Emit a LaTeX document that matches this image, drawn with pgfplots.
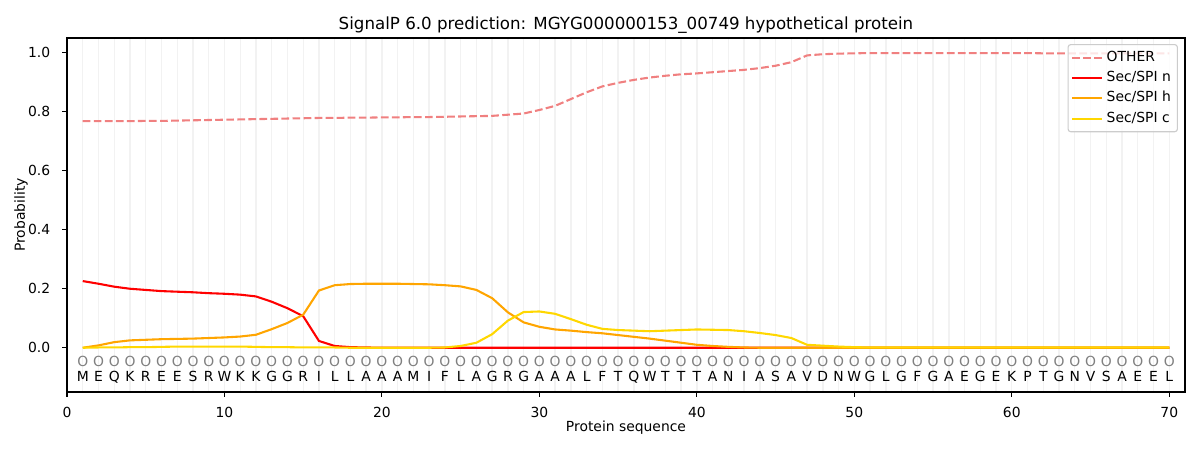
\documentclass[border=0pt]{standalone}
\usepackage{pgfplots}
\pgfplotsset{compat=1.18}
\usepackage{fontspec}
\setmainfont{DejaVu Sans}
\definecolor{cother}{RGB}{240,128,128}
\definecolor{cn}{RGB}{255,0,0}
\definecolor{ch}{RGB}{255,165,0}
\definecolor{cc}{RGB}{255,215,0}
\definecolor{cgrid}{RGB}{242,242,242}
\definecolor{cframe}{RGB}{204,204,204}

\pgfplotstableread{
x other n h c
1 0.768 0.226 0.000 0.000
2 0.768 0.217 0.008 0.001
3 0.768 0.207 0.019 0.001
4 0.768 0.200 0.025 0.002
5 0.769 0.196 0.027 0.002
6 0.769 0.192 0.029 0.003
7 0.770 0.190 0.030 0.004
8 0.771 0.188 0.031 0.004
9 0.772 0.185 0.033 0.004
10 0.773 0.183 0.035 0.004
11 0.774 0.180 0.038 0.004
12 0.775 0.174 0.044 0.003
13 0.776 0.156 0.063 0.002
14 0.777 0.134 0.084 0.002
15 0.778 0.107 0.112 0.001
16 0.779 0.023 0.194 0.001
17 0.779 0.006 0.212 0.001
18 0.780 0.002 0.216 0.000
19 0.780 0.001 0.217 0.000
20 0.781 0.000 0.217 0.000
21 0.781 0.000 0.217 0.000
22 0.782 0.000 0.216 0.000
23 0.782 0.000 0.215 0.000
24 0.783 0.000 0.212 0.001
25 0.784 0.000 0.208 0.006
26 0.785 0.000 0.196 0.017
27 0.786 0.000 0.168 0.046
28 0.790 0.000 0.120 0.092
29 0.794 0.000 0.086 0.121
30 0.806 0.000 0.071 0.123
31 0.820 0.000 0.062 0.115
32 0.843 0.000 0.058 0.097
33 0.866 0.000 0.053 0.078
34 0.886 0.000 0.049 0.064
35 0.898 0.000 0.043 0.060
36 0.908 0.000 0.037 0.058
37 0.916 0.000 0.031 0.056
38 0.922 0.000 0.024 0.058
39 0.927 0.000 0.017 0.060
40 0.930 0.000 0.010 0.062
41 0.934 0.000 0.006 0.061
42 0.938 0.000 0.003 0.060
43 0.942 0.000 0.001 0.056
44 0.948 0.000 0.000 0.050
45 0.956 0.000 0.000 0.043
46 0.968 0.000 0.000 0.033
47 0.991 0.000 0.000 0.010
48 0.995 0.000 0.000 0.007
49 0.997 0.000 0.000 0.004
50 0.998 0.000 0.000 0.002
51 0.999 0.000 0.000 0.001
52 0.999 0.000 0.000 0.001
53 0.999 0.000 0.000 0.001
54 0.999 0.000 0.000 0.001
55 0.999 0.000 0.000 0.001
56 0.999 0.000 0.000 0.001
57 0.999 0.000 0.000 0.001
58 0.999 0.000 0.000 0.001
59 0.999 0.000 0.000 0.001
60 0.999 0.000 0.000 0.001
61 0.999 0.000 0.000 0.001
62 0.998 0.000 0.000 0.001
63 0.998 0.000 0.000 0.001
64 0.998 0.000 0.000 0.001
65 0.998 0.000 0.000 0.001
66 0.998 0.000 0.000 0.001
67 0.998 0.000 0.000 0.001
68 0.998 0.000 0.000 0.001
69 0.998 0.000 0.000 0.001
70 0.998 0.000 0.000 0.001
}\datatable

\def\seq{M,E,Q,K,R,E,E,S,R,W,K,K,G,G,R,I,L,L,A,A,A,M,I,F,L,A,G,R,G,A,A,A,L,F,T,Q,W,T,T,T,A,N,I,A,S,A,V,D,N,W,G,L,G,F,G,A,E,G,E,K,P,T,G,N,V,S,A,E,E,L}

\begin{document}
\begin{tikzpicture}
\begin{axis}[
  at={(0,0)}, anchor=south west,
  scale only axis, width=804.96pt, height=254.88pt,
  xmin=0, xmax=71, ymin=-0.15, ymax=1.05,
  clip=false,
  xtick={0,10,20,30,40,50,60,70},
  xticklabels={0,10,20,30,40,50,60,70},
  ytick={0,0.2,0.4,0.6,0.8,1.0},
  yticklabels={0.0,0.2,0.4,0.6,0.8,1.0},
  minor xtick={1,2,...,70},
  xminorgrids=true,
  minor grid style={color=cgrid, line width=1pt},
  minor tick length=0pt,
  tick pos=left, tick align=outside, major tick length=3.5pt,
  major tick style={black, line width=0.8pt},
  axis line style={line width=0.8pt},
  ticklabel style={font=\fontsize{10}{12}\selectfont},
  xticklabel style={anchor=base, inner sep=0pt, yshift=-14.6pt},
  yticklabel style={anchor=east, inner sep=0pt, xshift=-8.4pt},
  legend style={
    at={(rel axis cs:0.9937,0.983)}, anchor=north east,
    draw=cframe, line width=0.8pt, rounded corners=2pt, fill=white, fill opacity=0.8, text opacity=1,
    font=\fontsize{10}{12}\selectfont,
    inner xsep=2.3pt, inner ysep=2.2pt, row sep=0pt,
    nodes={inner sep=2.4pt, text height=7.4pt, text depth=2.4pt},
  },
  legend cell align=left,
  legend image code/.code={\draw[#1, line width=1.5pt] (0pt,0pt) -- (21.6pt,0pt);},
]
\addplot[color=cother, line width=1.5pt, dash pattern=on 5.55pt off 2.4pt] table[x=x, y=other] {\datatable};
\addlegendentry{OTHER}
\addplot[color=cn, line width=1.5pt] table[x=x, y=n] {\datatable};
\addlegendentry{Sec/SPI n}
\addplot[color=ch, line width=1.5pt] table[x=x, y=h] {\datatable};
\addlegendentry{Sec/SPI h}
\addplot[color=cc, line width=1.5pt] table[x=x, y=c] {\datatable};
\addlegendentry{Sec/SPI c}

\foreach \a [count=\i] in \seq {
  \edef\temp{\noexpand\node[anchor=base, inner sep=0pt, font=\noexpand\fontsize{10}{12}\noexpand\selectfont] at (axis cs:\i,-0.114) {\a};
  \noexpand\node[anchor=base, inner sep=0pt, text=gray, font=\noexpand\fontsize{10}{12}\noexpand\selectfont] at (axis cs:\i,-0.0634) {O};}
  \temp
}

\node[anchor=base, font=\fontsize{12}{14}\selectfont] at ([yshift=5.76pt]rel axis cs:0.5,1) {SignalP 6.0 prediction: MGYG000000153\_00749 hypothetical protein};
\node[anchor=base, font=\fontsize{10}{12}\selectfont] at ([yshift=-28.6pt]rel axis cs:0.5,0) {Protein sequence};
\node[anchor=base, rotate=90, font=\fontsize{10}{12}\selectfont] at ([xshift=-30.4pt]rel axis cs:0,0.5) {Probability};
\end{axis}
\pgfresetboundingbox
\path (-48.24pt,-41.76pt) rectangle (815.76pt,282.24pt);
\end{tikzpicture}
\end{document}
